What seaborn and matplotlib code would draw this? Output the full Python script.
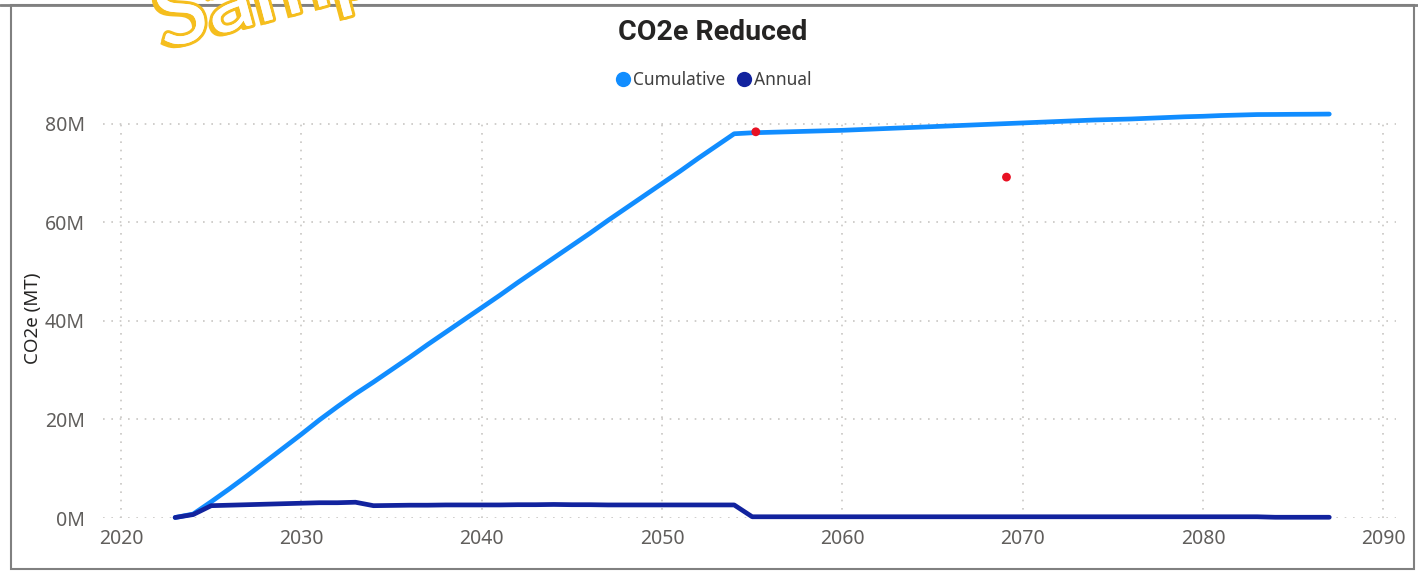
import numpy as np
import pandas as pd
import matplotlib
matplotlib.use('Agg')
import matplotlib.pyplot as plt
import matplotlib.patheffects as pe
from matplotlib.lines import Line2D
from matplotlib.patches import Rectangle
from matplotlib.ticker import FuncFormatter
import seaborn as sns

# Chart data (millions of metric tons CO2e)
years = list(range(2023, 2088))

annual = [
    0.1, 0.7, 2.5, 2.6, 2.7, 2.8, 2.9, 3.0, 3.1, 3.1,
    3.2, 2.5, 2.55, 2.6, 2.6, 2.65, 2.65, 2.65, 2.65, 2.7,
    2.7, 2.75, 2.7, 2.7, 2.65, 2.65, 2.65, 2.65, 2.65, 2.65,
    2.65, 2.65, 0.25, 0.25, 0.25, 0.25, 0.25, 0.25, 0.25, 0.25,
    0.25, 0.25, 0.25, 0.25, 0.25, 0.25, 0.25, 0.25, 0.25, 0.25,
    0.25, 0.25, 0.25, 0.25, 0.25, 0.25, 0.25, 0.25, 0.25, 0.25,
    0.25, 0.15, 0.15, 0.15, 0.15,
]

cumulative = [
    0.1, 0.8, 3.3, 5.9, 8.6, 11.4, 14.2, 17.0, 19.9, 22.6,
    25.2, 27.6, 30.1, 32.6, 35.2, 37.7, 40.2, 42.7, 45.2, 47.8,
    50.3, 52.8, 55.3, 57.8, 60.4, 62.9, 65.4, 67.9, 70.4, 73.0,
    75.5, 78.0, 78.2, 78.3, 78.4, 78.5, 78.6, 78.7, 78.85, 79.0,
    79.15, 79.3, 79.45, 79.6, 79.75, 79.9, 80.05, 80.2, 80.35, 80.5,
    80.65, 80.8, 80.9, 81.0, 81.15, 81.3, 81.45, 81.55, 81.7, 81.8,
    81.9, 81.92, 81.95, 81.97, 82.0,
]

# stray red markers seen on the chart
marker_years = [2055.2, 2069.1]
marker_values = [78.4, 69.2]

series_names = ['Cumulative', 'Annual']
series_colors = {'Cumulative': '#118DFF', 'Annual': '#12239E'}

df = pd.concat([
    pd.DataFrame({'Year': years, 'CO2e': np.array(cumulative) * 1e6, 'Series': 'Cumulative'}),
    pd.DataFrame({'Year': years, 'CO2e': np.array(annual) * 1e6, 'Series': 'Annual'}),
], ignore_index=True)

sns.set_theme(style='white')
plt.rcParams['font.family'] = ['Noto Sans', 'DejaVu Sans']

W, H = 1418, 571
fig = plt.figure(figsize=(W / 100, H / 100), dpi=100)
ax = fig.add_axes([103 / W, (H - 518) / H, (1396 - 103) / W, (518 - 118) / H])

sns.lineplot(data=df, x='Year', y='CO2e', hue='Series', hue_order=series_names,
             palette=series_colors, linewidth=3.4, legend=False, ax=ax,
             solid_joinstyle='round', solid_capstyle='round')
for line in ax.lines:
    line.set_clip_on(False)

sns.scatterplot(x=marker_years, y=np.array(marker_values) * 1e6, color='#E81123',
                s=40, edgecolor='none', ax=ax, zorder=5, clip_on=False)

ax.set_xlim(2019.0, 2090.7)
ax.set_ylim(0, 81.2e6)
ax.set_xticks([2020, 2030, 2040, 2050, 2060, 2070, 2080, 2090])
ax.set_yticks([0, 20e6, 40e6, 60e6, 80e6])
ax.yaxis.set_major_formatter(FuncFormatter(lambda v, p: f'{v / 1e6:.0f}M'))

ax.grid(True, color='#C8C6C4', linestyle=(0, (1, 4)), linewidth=1.2)
for s in ax.spines.values():
    s.set_visible(False)
ax.tick_params(axis='both', length=0, labelsize=14, labelcolor='#605E5C')
ax.tick_params(axis='x', pad=8)
ax.tick_params(axis='y', pad=13)
ax.set_xlabel('')
ax.set_ylabel('')
fig.text(33 / W, 1 - 318 / H, 'CO2e (MT)', rotation=90, ha='center', va='center',
         fontsize=13.5, color='#252423')

# title and legend
fig.text(713 / W, 1 - 33 / H, 'CO2e Reduced', ha='center', va='center',
         fontsize=20.5, fontweight='bold', family=['Roboto', 'DejaVu Sans'], color='#252423')
handles = [Line2D([], [], marker='o', linestyle='none', markersize=11,
                  markerfacecolor=series_colors[n], markeredgecolor='none') for n in series_names]
fig.legend(handles, series_names, loc='center', bbox_to_anchor=(713 / W, 1 - 80 / H),
           ncol=2, frameon=False, fontsize=12.5, handletextpad=0.05, columnspacing=0.6,
           handlelength=1.0, labelcolor='#404040')

# watermark
fig.text(146 / W, 1 - 48 / H, 'Sample', ha='left', va='baseline', rotation=15,
         fontsize=68, color='white', family=['Lato', 'DejaVu Sans'],
         path_effects=[pe.SimplePatchShadow(offset=(-3, -3), shadow_rgbFace='#F5BE1E', alpha=1),
                       pe.withStroke(linewidth=4.5, foreground='#F5BE1E'), pe.Normal()])

# card border
fig.patches.append(Rectangle((11 / W, 1 - 569 / H), (1414 - 11) / W, (569 - 5) / H,
                             transform=fig.transFigure, fill=False,
                             edgecolor='#808080', linewidth=1.5))
fig.lines.append(Line2D([0, 1], [1 - 5 / H, 1 - 5 / H], transform=fig.transFigure,
                        color='#808080', linewidth=2))

fig.savefig('out.png', dpi=100)
